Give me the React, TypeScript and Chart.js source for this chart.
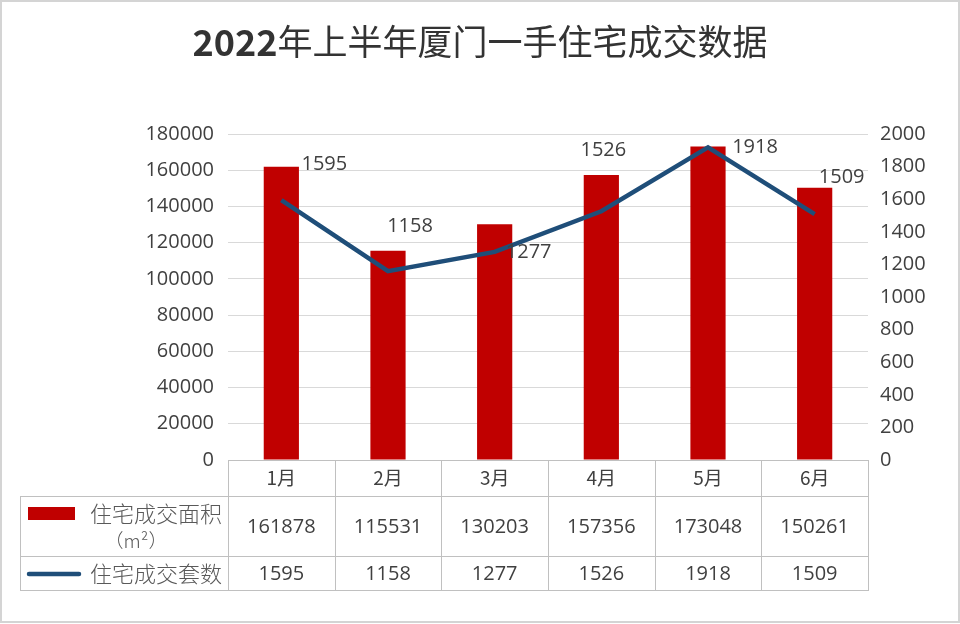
import React, { useEffect, useRef } from "react";
import { Chart, registerables } from "chart.js";

Chart.register(...registerables);

const titleYear = "2022";
const titleRest = "年上半年厦门一手住宅成交数据";
const categories = ["1月", "2月", "3月", "4月", "5月", "6月"];
const areaValues = [161878, 115531, 130203, 157356, 173048, 150261];
const unitValues = [1595, 1158, 1277, 1526, 1918, 1509];
const areaLabel = "住宅成交面积";
const areaUnit = "（m²）";
const unitLabel = "住宅成交套数";

const BAR_COLOR = "#c00000";
const LINE_COLOR = "#1f4e79";
const TEXT_COLOR = "#404040";
const GRID_COLOR = "#d9d9d9";
const TABLE_BORDER = "#c0c0c0";
const NUM_FONT = '"Open Sans", "Noto Sans", sans-serif';
const CJK_FONT = '"Noto Sans CJK SC", sans-serif';

// label offsets relative to line points (style only)
const labelOffsets: [number, number][] = [
  [43, -36],
  [22, -45],
  [34, 0],
  [2, -61],
  [47, 0],
  [27, -37],
];

const decorPlugin = {
  id: "decor",
  afterDraw(chart: any) {
    const ctx: CanvasRenderingContext2D = chart.ctx;
    const { left, right, bottom } = chart.chartArea;
    const n = categories.length;
    const cw = (right - left) / n;
    const tableLeft = 20;
    const top = Math.round(bottom);
    const r1 = top + 36;
    const r2 = r1 + 60;
    const r3 = r2 + 34;

    ctx.save();
    // title: bold year + regular CJK
    ctx.fillStyle = "#333333";
    ctx.textBaseline = "middle";
    ctx.textAlign = "left";
    const fBold = `bold 36px ${CJK_FONT}`;
    const fReg = `normal 35px ${CJK_FONT}`;
    ctx.font = fBold;
    const w1 = ctx.measureText(titleYear).width;
    ctx.font = fReg;
    const w2 = ctx.measureText(titleRest).width;
    const sx = 480 - (w1 + w2) / 2;
    ctx.font = fBold;
    ctx.fillText(titleYear, sx, 42);
    ctx.font = fReg;
    ctx.fillText(titleRest, sx + w1, 42);

    // data labels for line
    ctx.textAlign = "center";
    const meta = chart.getDatasetMeta(1);
    ctx.font = `20px ${NUM_FONT}`;
    ctx.fillStyle = TEXT_COLOR;
    meta.data.forEach((pt: any, i: number) => {
      const off = labelOffsets[i] || [0, -20];
      ctx.fillText(String(unitValues[i]), pt.x + off[0], pt.y + off[1]);
    });

    // table grid
    ctx.strokeStyle = TABLE_BORDER;
    ctx.lineWidth = 1;
    const h = (x1: number, x2: number, y: number) => {
      ctx.beginPath();
      ctx.moveTo(x1, y + 0.5);
      ctx.lineTo(x2, y + 0.5);
      ctx.stroke();
    };
    const v = (x: number, y1: number, y2: number) => {
      ctx.beginPath();
      ctx.moveTo(Math.round(x) + 0.5, y1);
      ctx.lineTo(Math.round(x) + 0.5, y2);
      ctx.stroke();
    };
    h(left, right, top);
    h(tableLeft, right, r1);
    h(tableLeft, right, r2);
    h(tableLeft, right, r3);
    for (let i = 0; i <= n; i++) v(left + i * cw, top, r3 + 1);
    v(tableLeft, r1, r3 + 1);

    // category header
    ctx.fillStyle = TEXT_COLOR;
    ctx.font = `19px ${CJK_FONT}`;
    categories.forEach((c, i) => {
      ctx.fillText(c, left + (i + 0.5) * cw, top + 18);
    });
    // values
    ctx.font = `20px ${NUM_FONT}`;
    areaValues.forEach((val, i) => {
      ctx.fillText(String(val), left + (i + 0.5) * cw, r1 + 31);
    });
    unitValues.forEach((val, i) => {
      ctx.fillText(String(val), left + (i + 0.5) * cw, r2 + 18);
    });

    // legend keys
    ctx.fillStyle = BAR_COLOR;
    ctx.fillRect(28, 507, 47, 13);
    ctx.strokeStyle = LINE_COLOR;
    ctx.lineWidth = 4.5;
    ctx.lineCap = "round";
    ctx.beginPath();
    ctx.moveTo(29, r2 + 18);
    ctx.lineTo(79, r2 + 18);
    ctx.stroke();

    ctx.fillStyle = "#595959";
    ctx.font = `300 22px ${CJK_FONT}`;
    ctx.textAlign = "left";
    ctx.fillText(areaLabel, 90, 514);
    ctx.fillText(unitLabel, 90, r2 + 18);
    ctx.textAlign = "center";
    ctx.font = `300 19px ${CJK_FONT}`;
    ctx.fillText(areaUnit, 136, 541);

    // outer frame
    ctx.strokeStyle = "#d4d4d4";
    ctx.lineWidth = 2;
    ctx.strokeRect(1, 1, 958, 621);
    ctx.restore();
  },
};

export default function App() {
  const ref = useRef<HTMLCanvasElement | null>(null);
  useEffect(() => {
    if (!ref.current) return;
    const chart = new Chart(ref.current, {
      data: {
        labels: categories,
        datasets: [
          {
            type: "bar",
            label: areaLabel,
            data: areaValues,
            backgroundColor: BAR_COLOR,
            yAxisID: "y",
            barPercentage: 0.33,
            categoryPercentage: 1,
            order: 2,
          },
          {
            type: "line",
            label: unitLabel,
            data: unitValues,
            borderColor: LINE_COLOR,
            borderWidth: 4.5,
            pointRadius: 0,
            tension: 0,
            yAxisID: "y1",
            order: 1,
          },
        ],
      } as any,
      options: {
        responsive: false,
        animation: false,
        layout: { padding: { top: 134, bottom: 164, left: 0, right: 0 } },
        plugins: {
          legend: { display: false },
          title: { display: false },
          tooltip: { enabled: false },
        },
        scales: {
          x: { display: false, offset: true },
          y: {
            position: "left",
            min: 0,
            max: 180000,
            ticks: {
              stepSize: 20000,
              padding: 14,
              color: TEXT_COLOR,
              font: { family: NUM_FONT, size: 20 },
              callback: (v: any) => String(v),
            },
            grid: { color: GRID_COLOR, drawTicks: false, lineWidth: 1 },
            border: { display: false },
            afterFit: (s: any) => {
              s.width = 228;
            },
          },
          y1: {
            position: "right",
            min: 0,
            max: 2000,
            ticks: {
              stepSize: 200,
              padding: 12,
              color: TEXT_COLOR,
              font: { family: NUM_FONT, size: 20 },
              callback: (v: any) => String(v),
            },
            grid: { display: false, drawTicks: false },
            border: { display: false },
            afterFit: (s: any) => {
              s.width = 92;
            },
          },
        },
      } as any,
      plugins: [decorPlugin],
    });
    return () => chart.destroy();
  }, []);
  return (
    <div style={{ position: "absolute", left: 0, top: 0, width: 960, height: 624, background: "#fff" }}>
      <canvas ref={ref} width={960} height={624} style={{ display: "block" }} />
    </div>
  );
}
